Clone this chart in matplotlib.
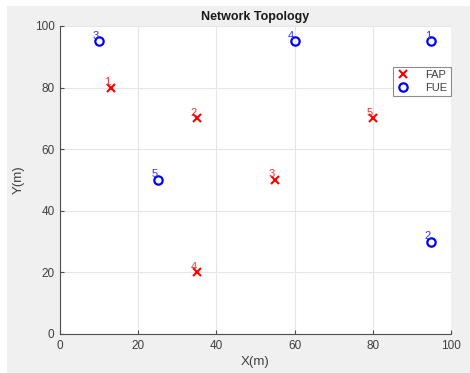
import matplotlib
matplotlib.use("Agg")
import matplotlib.pyplot as plt
from matplotlib.patches import Rectangle

fap_x = [13, 35, 55, 35, 80]
fap_y = [80, 70, 50, 20, 70]
fue_x = [95, 95, 10, 60, 25]
fue_y = [95, 30, 95, 95, 50]
fap_labels = ["1", "2", "3", "4", "5"]
fue_labels = ["1", "2", "3", "4", "5"]

plt.rcParams['font.family'] = ['Liberation Sans', 'DejaVu Sans']

W, H = 470, 373
fig = plt.figure(figsize=(W / 100, H / 100), dpi=100, facecolor='white')
fig.patches.append(Rectangle((7 / W, 0), 1 - 7 / W, 1 - 6 / H, transform=fig.transFigure,
                             facecolor='#f0f0f0', edgecolor='none', zorder=-10))

ax = fig.add_axes([60 / W, (H - 334) / H, 391 / W, 308 / H])
ax.set_facecolor('white')

ax.plot(fap_x, fap_y, linestyle='none', marker='x', color='red', markersize=5.5,
        markeredgewidth=1.5, label='FAP')
ax.plot(fue_x, fue_y, linestyle='none', marker='o', color='blue', markersize=6,
        markerfacecolor='none', markeredgewidth=1.6, label='FUE')

for x, y, t in zip(fap_x, fap_y, fap_labels):
    ax.annotate(t, (x, y), xytext=(-2.5, 4), textcoords='offset points', ha='center',
                va='center', color='#ff3030', fontsize=8)
for x, y, t in zip(fue_x, fue_y, fue_labels):
    ax.annotate(t, (x, y), xytext=(-2.5, 4), textcoords='offset points', ha='center',
                va='center', color='#3030ff', fontsize=8)

ax.set_xlim(0, 100)
ax.set_ylim(0, 100)
ax.set_xticks([0, 20, 40, 60, 80, 100])
ax.set_yticks([0, 20, 40, 60, 80, 100])
ax.grid(True, color='#e6e6e6', linewidth=0.8)
ax.set_axisbelow(True)
for s in ['top', 'right']:
    ax.spines[s].set_visible(False)
for s in ['left', 'bottom']:
    ax.spines[s].set_color('#4d4d4d')
    ax.spines[s].set_linewidth(0.8)
ax.tick_params(direction='in', length=3, colors='#4d4d4d', labelsize=8.5, labelcolor='#404040', pad=4)

ax.set_title('Network Topology', fontsize=9, fontweight='bold', color='#1a1a1a', pad=4)
ax.set_xlabel('X(m)', fontsize=9.5, color='#404040', labelpad=3)
ax.set_ylabel('Y(m)', fontsize=9.5, color='#404040', labelpad=7)

leg = ax.legend(loc='upper right', bbox_to_anchor=(1.0, 0.867), borderaxespad=0, fontsize=8,
                frameon=True, fancybox=False, edgecolor='#8c8c8c', framealpha=1,
                handlelength=1.2, handletextpad=1.4, borderpad=0.3, labelspacing=0.2)
leg.get_frame().set_linewidth(0.8)
for t in leg.get_texts():
    t.set_color('#404040')

fig.savefig('out.png', dpi=100, facecolor='white')
